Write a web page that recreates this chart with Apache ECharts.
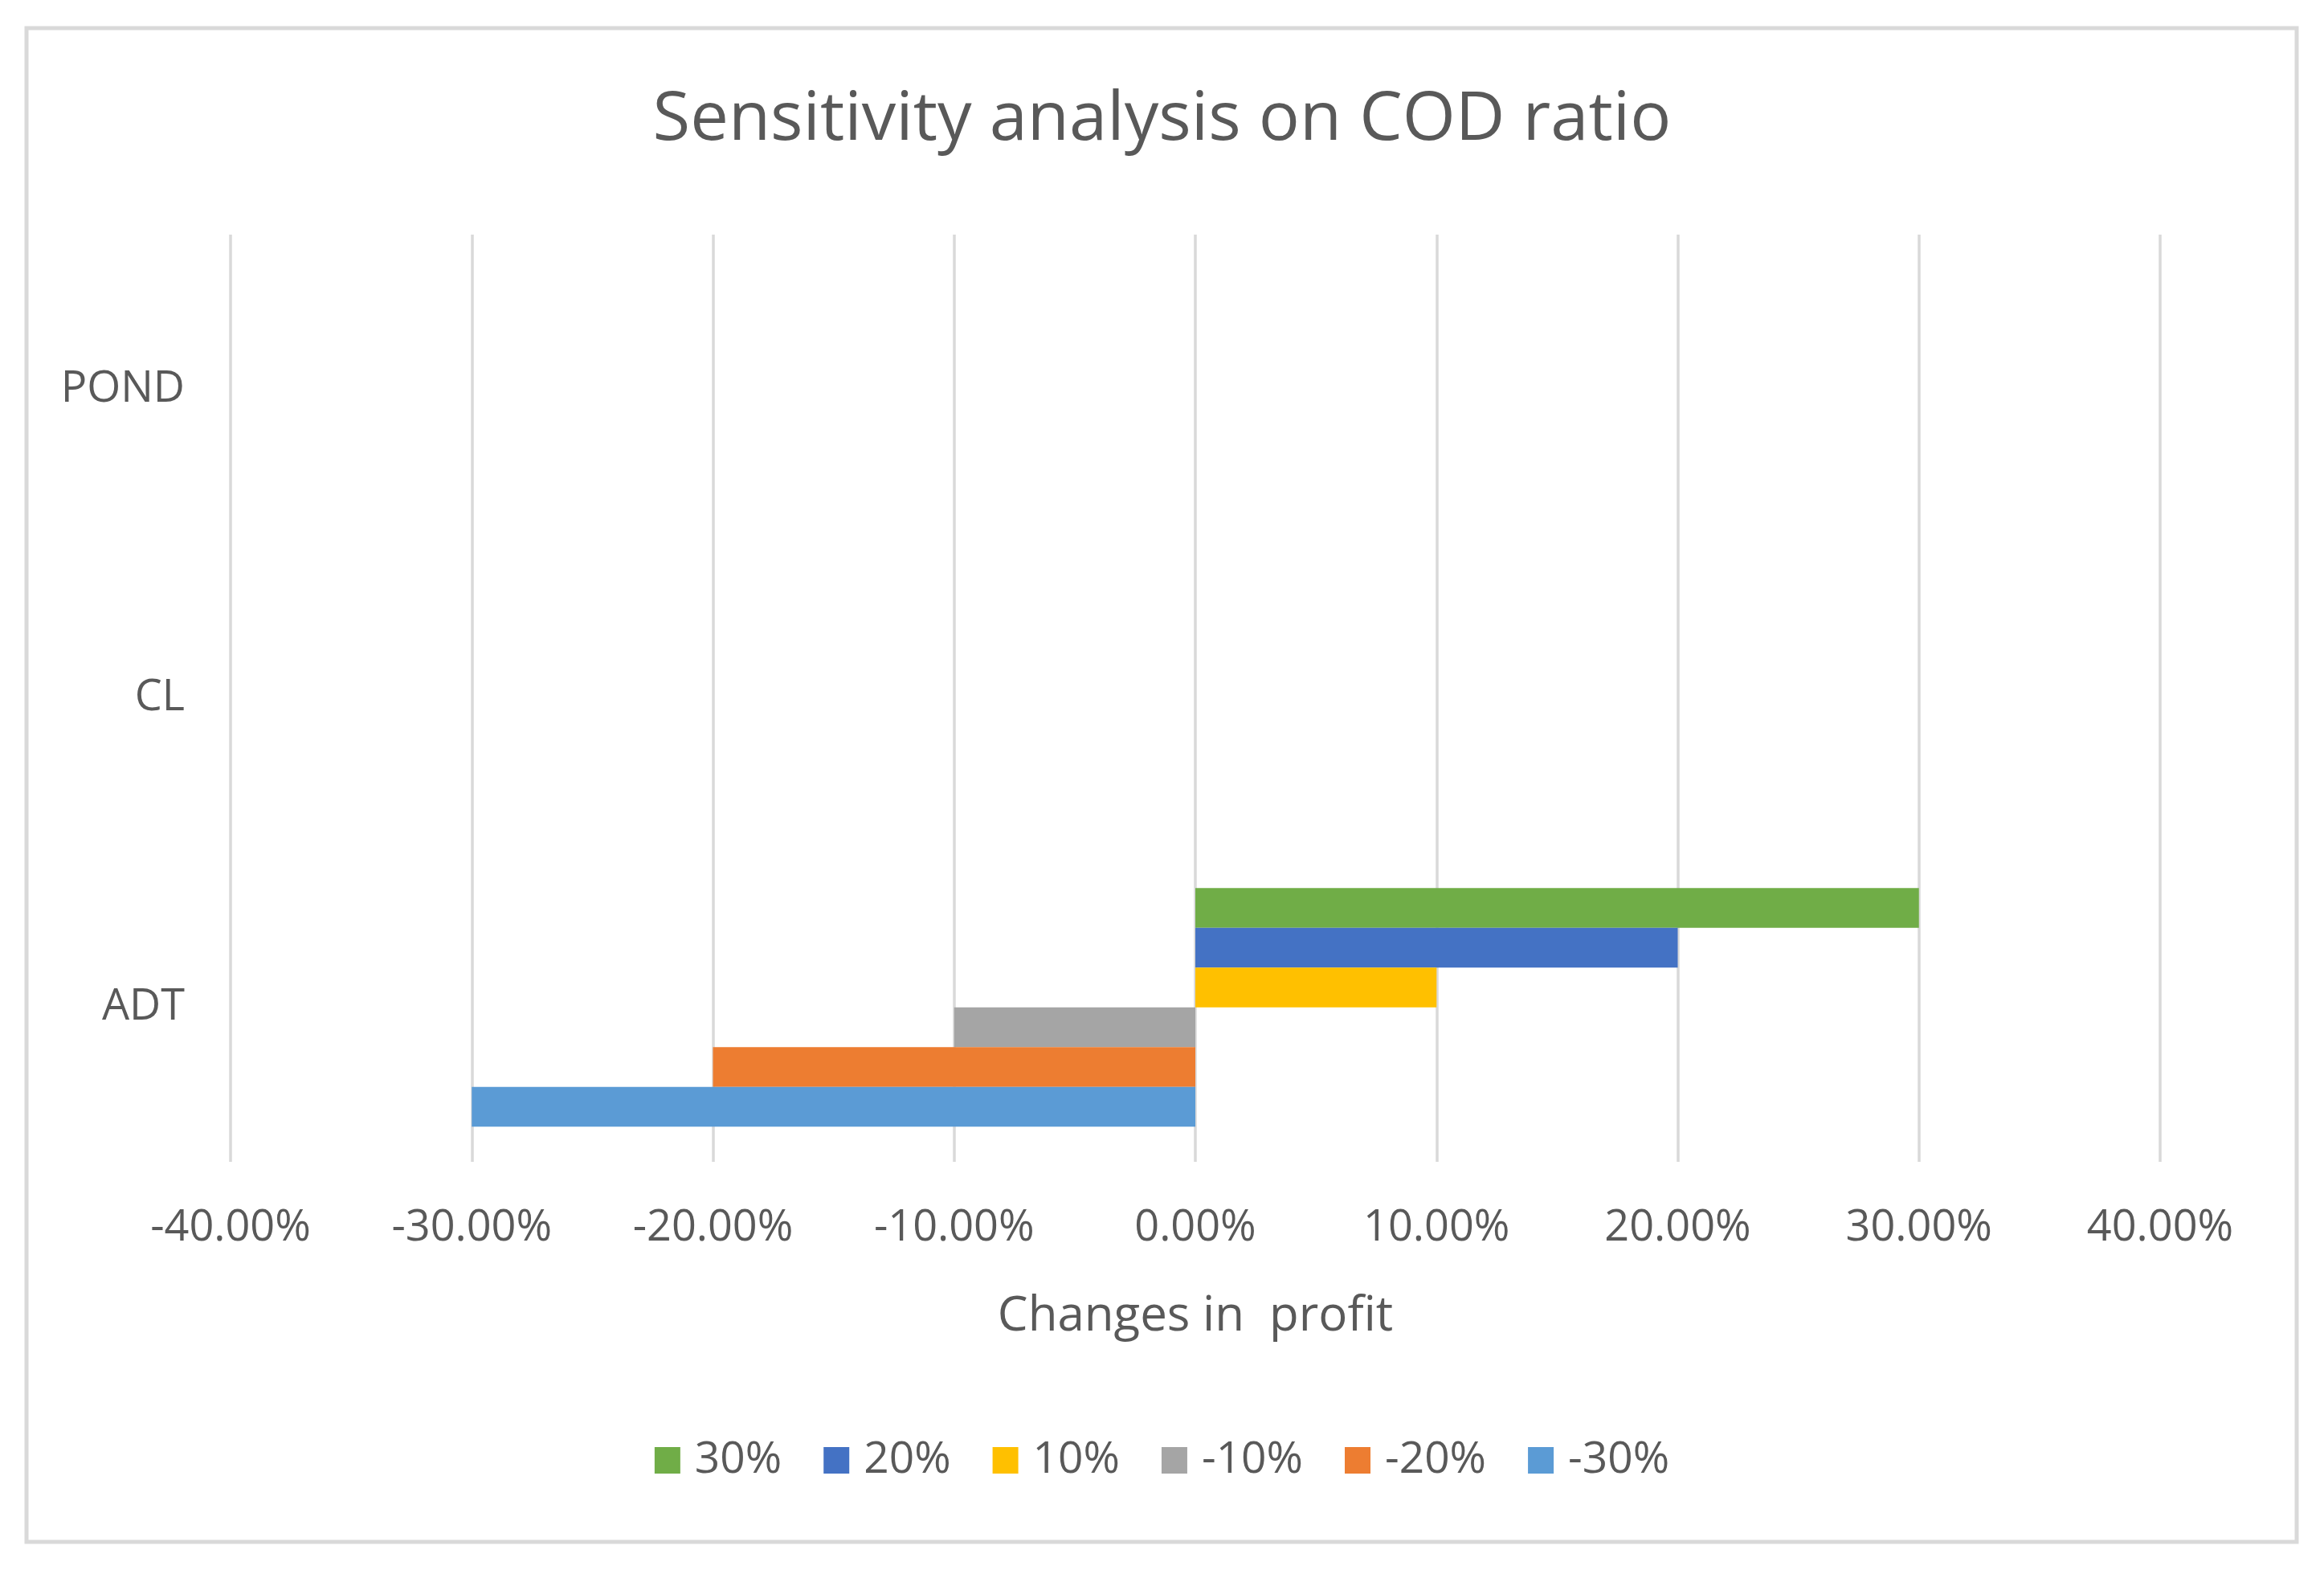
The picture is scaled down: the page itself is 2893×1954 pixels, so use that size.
<!DOCTYPE html>
<html>
<head>
<meta charset="utf-8">
<script src="https://cdn.jsdelivr.net/npm/echarts@6/dist/echarts.min.js"></script>
<style>
html,body{margin:0;padding:0;background:#fff;}
#chart{width:2893px;height:1954px;}
</style>
</head>
<body>
<div id="chart"></div>
<script>
const categories = ['ADT', 'CL', 'POND'];
const seriesNames = ['30%', '20%', '10%', '-10%', '-20%', '-30%'];
const s30 = [0.30, 0, 0];
const s20 = [0.20, 0, 0];
const s10 = [0.10, 0, 0];
const sm10 = [-0.10, 0, 0];
const sm20 = [-0.20, 0, 0];
const sm30 = [-0.30, 0, 0];
const xTicks = { min: -0.4, max: 0.4, interval: 0.1 };
const colors = ['#70AD47', '#4472C4', '#FFC000', '#A5A5A5', '#ED7D31', '#5B9BD5'];
const seriesValues = [s30, s20, s10, sm10, sm20, sm30];

const FONT = 'Open Sans';
const TXT = '#595959';

const chart = echarts.init(document.getElementById('chart'), null, {renderer: 'canvas'});
chart.setOption({
  animation: false,
  backgroundColor: '#ffffff',
  title: {
    text: 'Sensitivity analysis on COD ratio',
    left: 'center',
    top: 102,
    textStyle: { fontFamily: FONT, fontSize: 85, fontWeight: 'normal', color: TXT }
  },
  legend: {
    data: seriesNames,
    left: 'center',
    top: 1785,
    itemWidth: 32,
    itemHeight: 33,
    itemGap: 52,
    icon: 'rect',
    textStyle: { fontFamily: FONT, fontSize: 55, color: TXT, padding: [0, 0, 0, 13] }
  },
  graphic: [{
    type: 'rect',
    shape: { x: 33, y: 35, width: 2826, height: 1884 },
    style: { fill: 'none', stroke: '#D9D9D9', lineWidth: 5 },
    silent: true
  }],
  grid: { left: 287, right: 204, top: 292, bottom: 508 },
  xAxis: {
    type: 'value',
    min: xTicks.min,
    max: xTicks.max,
    interval: xTicks.interval,
    name: 'Changes in  profit',
    nameLocation: 'middle',
    nameGap: 163,
    nameTextStyle: { fontFamily: FONT, fontSize: 60, color: TXT },
    axisLine: { show: false },
    axisTick: { show: false },
    splitLine: { show: true, lineStyle: { color: '#D9D9D9', width: 3.5 } },
    axisLabel: {
      margin: 56,
      fontFamily: FONT, fontSize: 54, color: TXT,
      formatter: function (v) { return (Math.round(v * 1000) / 10).toFixed(2) + '%'; }
    }
  },
  yAxis: {
    type: 'category',
    data: categories,
    axisLine: { show: false },
    axisTick: { show: false },
    splitLine: { show: false },
    axisLabel: { margin: 57, fontFamily: FONT, fontSize: 54, color: TXT }
  },
  series: seriesNames.map(function (n, i) {
    return {
      name: n,
      type: 'bar',
      data: seriesValues[i],
      barWidth: 49.5,
      barGap: '0%',
      itemStyle: { color: colors[i] }
    };
  })
});
</script>
</body>
</html>
